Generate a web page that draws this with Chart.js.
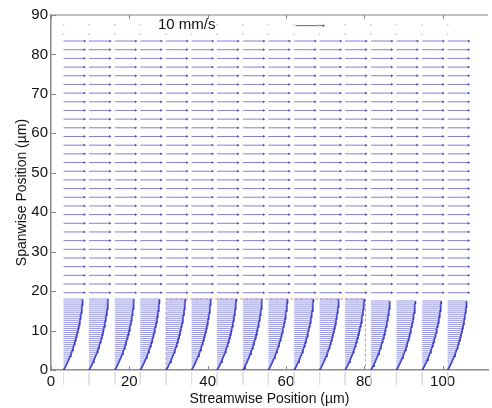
<!DOCTYPE html>
<html>
<head>
<meta charset="utf-8">
<script src="https://cdn.jsdelivr.net/npm/chart.js@4/dist/chart.umd.min.js"></script>
<style>
  body { margin: 0; background: #fff; }
  #wrap { width: 492px; height: 408px; }
</style>
</head>
<body>
<div id="wrap"><canvas id="quiver" width="492" height="408"></canvas></div>
<script>
// quiver plot: streamwise velocity vectors over the wall (um grid, speeds in mm/s)
var columnX = [3.2, 9.7, 16.3, 22.8, 29.4, 35.9, 42.4, 49.0, 55.5, 62.1, 68.6, 75.1, 81.7, 88.2, 94.8, 101.3];

// free stream rows above the layer
var freeRowsY = [19.6, 21.8, 24.0, 26.2, 28.4, 30.6, 32.8, 35.0, 37.2, 39.4, 41.6, 43.8, 46.0, 48.2, 50.4,
                 52.6, 54.8, 57.0, 59.2, 61.4, 63.6, 65.8, 68.0, 70.2, 72.4, 74.6, 76.8, 79.0, 81.2, 83.4];
var freeSpeed = [7.5, 7.5, 7.5, 7.5, 7.5, 7.5, 7.5, 7.5, 7.5, 7.5, 7.5, 7.5, 7.5, 7.5, 7.5,
                 7.5, 7.5, 7.5, 7.5, 7.5, 7.5, 7.5, 7.5, 7.5, 7.5, 7.5, 7.5, 7.5, 7.5, 7.6];

// near wall profile (dense rows)
var wallRowsY = [0, 0.5, 1, 1.5, 2, 2.5, 3, 3.5, 4, 4.5, 5, 5.5, 6, 6.5, 7, 7.5, 8, 8.5, 9,
                 9.5, 10, 10.5, 11, 11.5, 12, 12.5, 13, 13.5, 14, 14.5, 15, 15.5, 16, 16.5, 17, 17.5, 18];
var wallSpeed = [0, 0.41, 0.76, 1.10, 1.45, 1.73, 2.07, 2.35, 2.62, 2.90, 3.11, 3.38, 3.59, 3.80, 4.00,
                 4.21, 4.42, 4.62, 4.76, 4.97, 5.11, 5.24, 5.45, 5.59, 5.73, 5.87, 6.00, 6.07, 6.21,
                 6.35, 6.42, 6.56, 6.62, 6.69, 6.76, 6.83, 6.90];
var wallTopY = [18, 18, 18, 18, 18, 18, 18, 18, 18, 18, 18, 18, 17.5, 17.5, 17.5, 17.5];

// zero vectors (just dots) on the top rows
var quietRowsY = [85.1, 87.5];

var refSpeed = 10;      // mm/s
var arrowScale = 0.71;  // um of arrow per mm/s

var boxX = [29.4, 80.3];
var boxTop = 18;

var xTickValues = [0, 20, 40, 60, 80, 100];
var yTickValues = [0, 10, 20, 30, 40, 50, 60, 70, 80, 90];

// build segment lists (start, tip, gap)
var freeData = [];
for (var c = 0; c < columnX.length; c++) {
  for (var r = 0; r < freeRowsY.length; r++) {
    freeData.push({x: columnX[c], y: freeRowsY[r]});
    freeData.push({x: columnX[c] + freeSpeed[r] * arrowScale, y: freeRowsY[r]});
    freeData.push({x: columnX[c], y: null});
  }
}

var wallData = [];
var tipData = [];
for (var c = 0; c < columnX.length; c++) {
  for (var r = 0; r < wallRowsY.length; r++) {
    if (wallRowsY[r] > wallTopY[c]) continue;
    wallData.push({x: columnX[c], y: wallRowsY[r]});
    wallData.push({x: columnX[c] + wallSpeed[r] * arrowScale, y: wallRowsY[r]});
    wallData.push({x: columnX[c], y: null});
    tipData.push({x: columnX[c] + wallSpeed[r] * arrowScale, y: wallRowsY[r]});
  }
  tipData.push({x: columnX[c], y: null});
}

var dotData = [];
for (var c = 0; c < columnX.length; c++) {
  for (var r = 0; r < quietRowsY.length; r++) {
    dotData.push({x: columnX[c], y: quietRowsY[r]});
  }
}

// faint marks under the axis
var underData = [];
for (var c = 0; c < columnX.length; c++) {
  underData.push({x: columnX[c], y: -0.6});
  underData.push({x: columnX[c], y: -3.8});
  underData.push({x: columnX[c], y: null});
}

var refData = [{x: 62.5, y: 87.3}, {x: 62.5 + refSpeed * arrowScale, y: 87.3}];

var boxData = [{x: boxX[0], y: 0}, {x: boxX[0], y: boxTop}, {x: boxX[1], y: boxTop}, {x: boxX[1], y: 0}];

var tipRadius = function(ctx) { return ctx.dataIndex % 3 === 1 ? 1.6 : 0; };

var frame = {
  id: 'frame',
  afterDraw: function(chart) {
    var ctx = chart.ctx, a = chart.chartArea;
    var xs = chart.scales.x, ys = chart.scales.y;
    ctx.save();
    ctx.strokeStyle = '#ababab';
    ctx.lineWidth = 1.5;
    ctx.beginPath();
    ctx.moveTo(a.left, a.top);
    ctx.lineTo(a.right, a.top);
    ctx.stroke();
    ctx.strokeStyle = '#8a8a8a';
    ctx.lineWidth = 1;
    ctx.beginPath();
    xTickValues.forEach(function(v) {
      var px = Math.round(xs.getPixelForValue(v)) + 0.5;
      ctx.moveTo(px, a.bottom); ctx.lineTo(px, a.bottom - 4);
      ctx.moveTo(px, a.top); ctx.lineTo(px, a.top + 4);
    });
    yTickValues.forEach(function(v) {
      var py = Math.round(ys.getPixelForValue(v)) + 0.5;
      ctx.moveTo(a.left, py); ctx.lineTo(a.left + 5, py);
    });
    ctx.stroke();
    ctx.fillStyle = '#111';
    ctx.font = '15px "Liberation Sans", Arial, sans-serif';
    ctx.textAlign = 'left';
    ctx.textBaseline = 'middle';
    ctx.fillText('10 mm/s', xs.getPixelForValue(27.3), ys.getPixelForValue(87.6));
    ctx.restore();
  }
};

var chart = new Chart(document.getElementById('quiver').getContext('2d'), {
  type: 'scatter',
  data: {
    datasets: [
      {
        data: underData, showLine: true, clip: false,
        borderColor: '#dedede', borderWidth: 1, pointRadius: 0, spanGaps: false
      },
      {
        data: dotData, showLine: false,
        pointRadius: 1, pointBackgroundColor: '#d6d6d6', pointBorderWidth: 0
      },
      {
        data: freeData, showLine: true, spanGaps: false,
        borderColor: '#8282d2', borderWidth: 1,
        pointRadius: tipRadius, pointStyle: 'triangle', pointRotation: 90,
        pointBackgroundColor: '#4a4ab4', pointBorderWidth: 0
      },
      {
        data: wallData, showLine: true, spanGaps: false,
        borderColor: '#9898e2', borderWidth: 1, pointRadius: 0
      },
      {
        data: tipData, showLine: true, spanGaps: false,
        borderColor: '#3030c4', borderWidth: 1.8, pointRadius: 0
      },
      {
        data: refData, showLine: true,
        borderColor: '#5a5abc', borderWidth: 1,
        pointRadius: tipRadius, pointStyle: 'triangle', pointRotation: 90,
        pointBackgroundColor: '#4a4ab4', pointBorderWidth: 0
      },
      {
        data: boxData, showLine: true,
        borderColor: '#e6906e', borderWidth: 1, borderDash: [3, 2], pointRadius: 0
      }
    ]
  },
  options: {
    responsive: false,
    animation: false,
    layout: { padding: { top: 15, right: 0, left: 0, bottom: 0 } },
    plugins: { legend: { display: false }, tooltip: { enabled: false } },
    scales: {
      x: {
        type: 'linear', min: 0, max: 111.6,
        afterBuildTicks: function(s) { s.ticks = xTickValues.map(function(v) { return {value: v}; }); },
        afterFit: function(s) { s.height = 38; },
        ticks: { color: '#111', padding: 3, font: { size: 15, family: '"Liberation Sans", Arial, sans-serif' } },
        grid: { drawOnChartArea: false, drawTicks: false },
        border: { color: '#8c8c8c', width: 1.5 },
        title: {
          display: true, text: 'Streamwise Position (µm)', color: '#111',
          padding: { top: 0, bottom: 0 },
          font: { size: 14, family: '"Liberation Sans", Arial, sans-serif' }
        }
      },
      y: {
        type: 'linear', min: 0, max: 90,
        afterBuildTicks: function(s) { s.ticks = yTickValues.map(function(v) { return {value: v}; }); },
        afterFit: function(s) { s.width = 51; },
        ticks: { color: '#111', padding: 3, font: { size: 15, family: '"Liberation Sans", Arial, sans-serif' } },
        grid: { drawOnChartArea: false, drawTicks: false },
        border: { color: '#8c8c8c', width: 1.5 },
        title: {
          display: true, text: 'Spanwise Position (µm)', color: '#111',
          padding: { top: 14, bottom: 0 },
          font: { size: 14, family: '"Liberation Sans", Arial, sans-serif' }
        }
      }
    }
  },
  plugins: [frame]
});
</script>
</body>
</html>
